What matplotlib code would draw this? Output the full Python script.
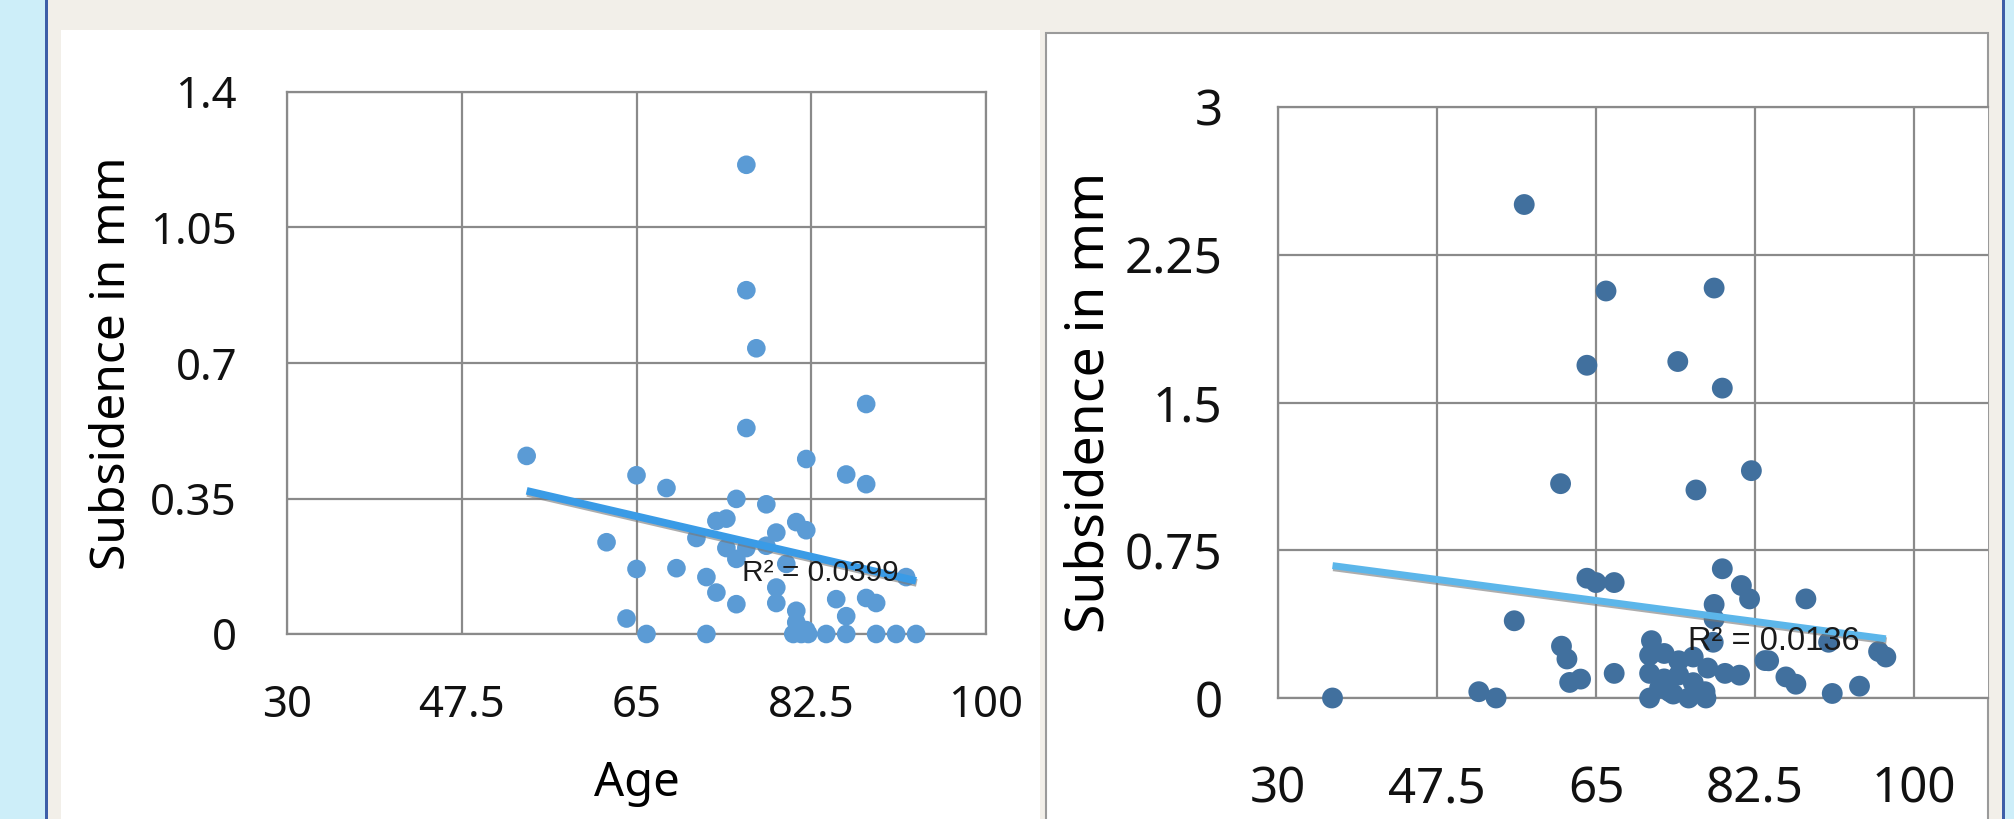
"""
Subsidence vs age - two scatter plots with linear trendlines
"""
####################################################################################################################
# Libs
import numpy as np
import matplotlib.pyplot as plt
import matplotlib.patheffects as pe
from matplotlib.patches import Rectangle

####################################################################################################################
# Data
ageLeft = [54, 65, 68, 75, 78, 73, 74, 79, 81, 82, 71, 62, 74, 76, 78, 65, 69, 72, 75, 80,
           73, 79, 75, 79, 85, 88, 89, 92, 81, 86, 81, 82, 64,
           66, 72, 80.7, 81.5, 82.2, 84, 86, 89, 91, 93,
           76, 76, 77, 88, 76, 82, 86, 88]
subLeft = [0.46, 0.41, 0.377, 0.349, 0.335, 0.292, 0.298, 0.262, 0.289, 0.268, 0.248, 0.237, 0.222, 0.222,
           0.228, 0.168, 0.17, 0.147, 0.194, 0.181,
           0.107, 0.12, 0.077, 0.08, 0.09, 0.093, 0.08, 0.147, 0.06, 0.046, 0.03, 0.01, 0.04,
           0, 0, 0, 0, 0, 0, 0, 0, 0, 0,
           1.212, 0.888, 0.738, 0.594, 0.532, 0.452, 0.412, 0.387]

ageRight = [57.1, 66.1, 78.0, 64.0, 74.0, 78.9, 61.1, 76.0, 82.1, 78.9, 64.0, 65.0, 67.0, 81.0, 81.9, 88.1,
            78.0, 56.0, 78.0, 61.2, 71.1, 61.8, 62.1, 63.3, 67.0, 70.9, 72.5, 74.1, 75.7, 77.3,
            70.9, 72.5, 74.1, 75.7, 77.0, 70.9, 73.1, 75.2, 77.1, 79.2, 80.8, 84.0, 85.9, 87.0,
            91.0, 94.0, 96.1, 96.9, 36.0, 52.1, 54.0, 77.9, 90.6, 83.6, 72.0, 73.5]
subRight = [2.505, 2.066, 2.081, 1.689, 1.708, 1.573, 1.088, 1.056, 1.154, 0.656, 0.608, 0.586, 0.586, 0.571,
            0.503, 0.503, 0.475, 0.392, 0.401, 0.263, 0.291, 0.198, 0.079, 0.096, 0.125, 0.217, 0.226,
            0.189, 0.208, 0.152, 0.125, 0.097, 0.117, 0.078, 0.032, 0.0, 0.032, 0.0, 0.0, 0.125, 0.116,
            0.189, 0.107, 0.07, 0.023, 0.06, 0.236, 0.208, 0.0, 0.032, 0.0, 0.283, 0.283, 0.19, 0.05, 0.02]

xTicks = [30, 47.5, 65, 82.5, 100]
xTickLabels = ['30', '47.5', '65', '82.5', '100']
yTicksLeft = [0, 0.35, 0.7, 1.05, 1.4]
yTickLabelsLeft = ['0', '0.35', '0.7', '1.05', '1.4']
yTicksRight = [0, 0.75, 1.5, 2.25, 3]
yTickLabelsRight = ['0', '0.75', '1.5', '2.25', '3']
r2Left = 'R² = 0.0399'
r2Right = 'R² = 0.0136'

####################################################################################################################
# Figure and background
W, H = 2014, 819
plt.rcParams['font.family'] = ['Noto Sans', 'DejaVu Sans']
fig = plt.figure(figsize=(W / 100, H / 100), dpi=100, facecolor='#f2efe9')

def box(x0, y0, x1, y1, color, edge=None): # rectangle in pixels, y measured from the top
    fig.patches.append(Rectangle((x0 / W, 1 - y1 / H), (x1 - x0) / W, (y1 - y0) / H,
                                 transform=fig.transFigure, facecolor=color,
                                 edgecolor=edge if edge else 'none', lw=1.5 if edge else 0, zorder=-5))

box(0, 0, 46, H, '#cdeef9')
box(45, 0, 48, H, '#3d5ea8')
box(2002, 0, 2005, H, '#3d5ea8')
box(2005, 0, W, H, '#cdeef9')
box(61, 30, 1040, H + 5, 'white')
box(1046, 33, 1988, H + 5, 'white', edge='#9a9a9a')

####################################################################################################################
# Functions
def drawPanel(ax, age, sub, xmax, ymax, yTicks, yLabels, dotColor, dotSize, lineColor, lineWidth,
              r2Text, r2Pos, r2Size, tickSize, yPad, xPad):
    ax.set_facecolor('white')
    ax.scatter(age, sub, s=dotSize, color=dotColor, edgecolors='none', zorder=3, clip_on=False)
    # linear trendline from the data
    slope, inter = np.polyfit(age, sub, 1)
    xFit = np.array([min(age), max(age)])
    ax.plot(xFit, slope * xFit + inter, color=lineColor, lw=lineWidth, zorder=4, solid_capstyle='butt',
            path_effects=[pe.SimpleLineShadow(offset=(0.5, -1.5), shadow_color='#777777', alpha=0.6), pe.Normal()])
    ax.text(r2Pos[0], r2Pos[1], r2Text, ha='center', va='center', fontsize=r2Size,
            family='Liberation Sans', color='#1a1a1a', zorder=5)
    ax.set_xlim(30, xmax)
    ax.set_ylim(0, ymax)
    ax.set_xticks(xTicks)
    ax.set_xticklabels(xTickLabels)
    ax.set_yticks(yTicks)
    ax.set_yticklabels(yLabels)
    ax.grid(True, color='#8a8a8a', lw=1.6, zorder=1)
    ax.set_axisbelow(True)
    for s in ax.spines.values():
        s.set_color('#8a8a8a')
        s.set_linewidth(1.6)
    ax.tick_params(length=0, labelsize=tickSize, colors='#111111')
    ax.tick_params(axis='y', pad=yPad)
    ax.tick_params(axis='x', pad=xPad)

####################################################################################################################
# Left panel
axL = fig.add_axes([287 / W, 1 - 634 / H, (986 - 287) / W, (634 - 92) / H])
drawPanel(axL, ageLeft, subLeft, 100, 1.4, yTicksLeft, yTickLabelsLeft, '#5b9bd5', 180, '#3a9be6', 5.5,
          r2Left, (83.4, 0.157), 21.5, 31.5, 36, 36)
axL.set_ylabel('Subsidence in mm', fontsize=34.5, va='center')
axL.yaxis.set_label_coords(-0.249, 0.5)
axL.set_xlabel('Age', fontsize=34, va='center')
axL.xaxis.set_label_coords(0.5, -0.275)

# Right panel
axR = fig.add_axes([1278 / W, 1 - 698 / H, (1988 - 1278) / W, (698 - 107) / H])
drawPanel(axR, ageRight, subRight, 30 + 710 / 9.086, 3, yTicksRight, yTickLabelsRight, '#41709e', 225,
          '#5cb6ea', 5, r2Right, (84.6, 0.285), 23.5, 35.5, 40, 48)
axR.spines['right'].set_visible(False)
axR.set_ylabel('Subsidence in mm', fontsize=38.5, va='center')
axR.yaxis.set_label_coords(-0.265, 0.5)

plt.savefig('out.png', dpi=100, facecolor=fig.get_facecolor())
